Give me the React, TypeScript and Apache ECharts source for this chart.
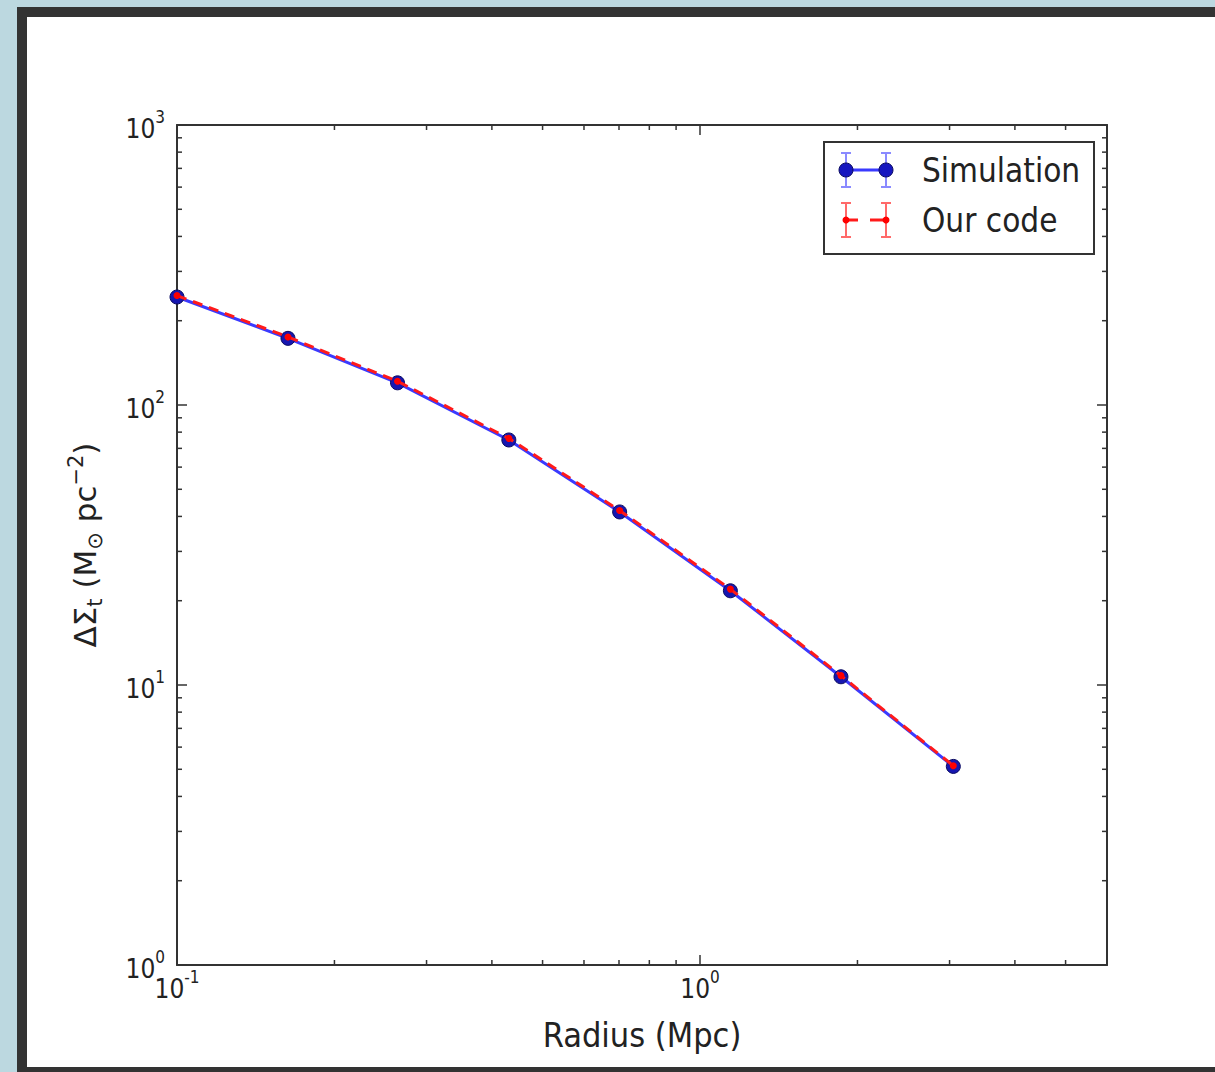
import React, { useEffect, useRef } from "react";
import * as echarts from "echarts";

// Projected radius bins (Mpc)
const radius = [0.1, 0.163, 0.264, 0.431, 0.702, 1.143, 1.86, 3.05];
// Tangential shear profile, ΔΣ_t (M⊙ pc⁻²)
const simulation = [243, 173, 120, 75, 41.5, 21.7, 10.7, 5.12];
const ourCode = [246, 175, 121.5, 76, 42, 22, 10.8, 5.15];

const xMin = 0.1;
const xMax = 6;
const yMin = 1;
const yMax = 1000;

// Minor tick positions of the log axes
const xMinorTicks = [0.2, 0.3, 0.4, 0.5, 0.6, 0.7, 0.8, 0.9, 2, 3, 4, 5];
const yMinorTicks = [
  2, 3, 4, 5, 6, 7, 8, 9, 20, 30, 40, 50, 60, 70, 80, 90, 200, 300, 400, 500, 600, 700, 800, 900,
];

const legendLabels = ["Simulation", "Our code"];

const FONT = '"DejaVu Sans Condensed", "DejaVu Sans", sans-serif';
const FONT_WIDE = '"DejaVu Sans", sans-serif';

const powerLabel = (v: number) => {
  const e = Math.log10(v);
  const r = Math.round(e);
  if (Math.abs(e - r) > 1e-6) return "";
  return `{b|10}{s|${r < 0 ? "-" + Math.abs(r) : r}}`;
};

const tickRich = {
  b: { fontSize: 26, lineHeight: 34, verticalAlign: "bottom", color: "#222", fontFamily: FONT },
  s: { fontSize: 17, lineHeight: 17, verticalAlign: "top", color: "#222", fontFamily: FONT },
};

export default function App() {
  const ref = useRef<HTMLDivElement>(null);

  useEffect(() => {
    if (!ref.current) return;
    const chart = echarts.init(ref.current, undefined, { renderer: "svg" });

    const tickStyle = { stroke: "#333", lineWidth: 1.5 };
    const minorLen = 5;

    const option: any = {
      animation: false,
      backgroundColor: "transparent",
      grid: { left: 177, top: 125, width: 930, height: 840, containLabel: false },
      xAxis: [
        {
          type: "log",
          logBase: 10,
          min: xMin,
          max: xMax,
          name: "Radius (Mpc)",
          nameLocation: "middle",
          nameGap: 53,
          nameTextStyle: { fontSize: 34, color: "#222", fontFamily: FONT },
          axisLine: { show: true, lineStyle: { color: "#333", width: 2 } },
          axisTick: { show: true, inside: true, length: 10, lineStyle: { color: "#333", width: 1.5 } },
          axisLabel: { formatter: powerLabel, rich: tickRich, margin: 3, showMaxLabel: false },
          splitLine: { show: false },
        },
        {
          type: "log",
          logBase: 10,
          min: xMin,
          max: xMax,
          position: "top",
          axisLine: { show: true, lineStyle: { color: "#333", width: 2 } },
          axisTick: { show: true, inside: true, length: 10, lineStyle: { color: "#333", width: 1.5 } },
          axisLabel: { show: false },
          splitLine: { show: false },
        },
      ],
      yAxis: [
        {
          type: "log",
          logBase: 10,
          min: yMin,
          max: yMax,
          name: "{m|ΔΣ}{sub|t}{m| (M}{sub|⊙}{m| pc}{sup|−2}{m|)}",
          nameLocation: "middle",
          nameRotate: 90,
          nameGap: 72,
          nameTextStyle: {
            rich: {
              m: { fontSize: 31, lineHeight: 40, verticalAlign: "middle", color: "#222", fontFamily: FONT_WIDE },
              sub: { fontSize: 21, lineHeight: 21, verticalAlign: "bottom", color: "#222", fontFamily: FONT_WIDE },
              sup: { fontSize: 21, lineHeight: 21, verticalAlign: "top", color: "#222", fontFamily: FONT_WIDE },
            },
          },
          axisLine: { show: true, lineStyle: { color: "#333", width: 2 } },
          axisTick: { show: true, inside: true, length: 10, lineStyle: { color: "#333", width: 1.5 } },
          axisLabel: { formatter: powerLabel, rich: tickRich, margin: 12 },
          splitLine: { show: false },
        },
        {
          type: "log",
          logBase: 10,
          min: yMin,
          max: yMax,
          position: "right",
          axisLine: { show: true, lineStyle: { color: "#333", width: 2 } },
          axisTick: { show: true, inside: true, length: 10, lineStyle: { color: "#333", width: 1.5 } },
          axisLabel: { show: false },
          splitLine: { show: false },
        },
      ],
      series: [
        {
          name: "xMinor",
          type: "custom",
          silent: true,
          clip: false,
          data: xMinorTicks.map((v) => [v, yMin]),
          renderItem: (params: any, api: any) => {
            const cs = params.coordSys;
            const p = api.coord([api.value(0), api.value(1)]);
            return {
              type: "group",
              children: [
                { type: "line", shape: { x1: p[0], y1: cs.y + cs.height, x2: p[0], y2: cs.y + cs.height - minorLen }, style: tickStyle },
                { type: "line", shape: { x1: p[0], y1: cs.y, x2: p[0], y2: cs.y + minorLen }, style: tickStyle },
              ],
            };
          },
        },
        {
          name: "yMinor",
          type: "custom",
          silent: true,
          clip: false,
          data: yMinorTicks.map((v) => [xMin, v]),
          renderItem: (params: any, api: any) => {
            const cs = params.coordSys;
            const p = api.coord([api.value(0), api.value(1)]);
            return {
              type: "group",
              children: [
                { type: "line", shape: { x1: cs.x, y1: p[1], x2: cs.x + minorLen, y2: p[1] }, style: tickStyle },
                { type: "line", shape: { x1: cs.x + cs.width, y1: p[1], x2: cs.x + cs.width - minorLen, y2: p[1] }, style: tickStyle },
              ],
            };
          },
        },
        {
          name: legendLabels[0],
          type: "line",
          data: radius.map((r, i) => [r, simulation[i]]),
          symbol: "circle",
          symbolSize: 14,
          clip: false,
          lineStyle: { color: "#3a3aff", width: 3 },
          itemStyle: { color: "#1616b0", borderColor: "#0a0a60", borderWidth: 1 },
          z: 3,
        },
        {
          name: legendLabels[1],
          type: "line",
          data: radius.map((r, i) => [r, ourCode[i]]),
          symbol: "circle",
          symbolSize: 7,
          clip: false,
          lineStyle: { color: "#ff1a1a", width: 3, type: [10, 7] },
          itemStyle: { color: "#ff0000" },
          z: 4,
        },
      ],
      graphic: [
        {
          type: "group",
          left: 823,
          top: 141,
          children: [
            { type: "rect", shape: { x: 0, y: 0, width: 270, height: 112 }, style: { fill: "#fff", stroke: "#333", lineWidth: 2 } },
            // Simulation sample: error bars, line, markers
            { type: "line", shape: { x1: 22, y1: 11, x2: 22, y2: 45 }, style: { stroke: "#8a8aff", lineWidth: 2 } },
            { type: "line", shape: { x1: 17, y1: 11, x2: 27, y2: 11 }, style: { stroke: "#8a8aff", lineWidth: 2 } },
            { type: "line", shape: { x1: 17, y1: 45, x2: 27, y2: 45 }, style: { stroke: "#8a8aff", lineWidth: 2 } },
            { type: "line", shape: { x1: 62, y1: 11, x2: 62, y2: 45 }, style: { stroke: "#8a8aff", lineWidth: 2 } },
            { type: "line", shape: { x1: 57, y1: 11, x2: 67, y2: 11 }, style: { stroke: "#8a8aff", lineWidth: 2 } },
            { type: "line", shape: { x1: 57, y1: 45, x2: 67, y2: 45 }, style: { stroke: "#8a8aff", lineWidth: 2 } },
            { type: "line", shape: { x1: 22, y1: 28, x2: 62, y2: 28 }, style: { stroke: "#3a3aff", lineWidth: 3 } },
            { type: "circle", shape: { cx: 22, cy: 28, r: 7 }, style: { fill: "#1616c0", stroke: "#0a0a60", lineWidth: 1 } },
            { type: "circle", shape: { cx: 62, cy: 28, r: 7 }, style: { fill: "#1616c0", stroke: "#0a0a60", lineWidth: 1 } },
            { type: "text", style: { text: legendLabels[0], x: 98, y: 28, verticalAlign: "middle", fontSize: 33, fill: "#222", fontFamily: FONT } },
            // Our code sample: error bars, dashed line, markers
            { type: "line", shape: { x1: 22, y1: 61, x2: 22, y2: 95 }, style: { stroke: "#ff6a6a", lineWidth: 2 } },
            { type: "line", shape: { x1: 17, y1: 61, x2: 27, y2: 61 }, style: { stroke: "#ff6a6a", lineWidth: 2 } },
            { type: "line", shape: { x1: 17, y1: 95, x2: 27, y2: 95 }, style: { stroke: "#ff6a6a", lineWidth: 2 } },
            { type: "line", shape: { x1: 62, y1: 61, x2: 62, y2: 95 }, style: { stroke: "#ff6a6a", lineWidth: 2 } },
            { type: "line", shape: { x1: 57, y1: 61, x2: 67, y2: 61 }, style: { stroke: "#ff6a6a", lineWidth: 2 } },
            { type: "line", shape: { x1: 57, y1: 95, x2: 67, y2: 95 }, style: { stroke: "#ff6a6a", lineWidth: 2 } },
            { type: "line", shape: { x1: 22, y1: 78, x2: 34, y2: 78 }, style: { stroke: "#ff1a1a", lineWidth: 3 } },
            { type: "line", shape: { x1: 46, y1: 78, x2: 62, y2: 78 }, style: { stroke: "#ff1a1a", lineWidth: 3 } },
            { type: "circle", shape: { cx: 22, cy: 78, r: 3.5 }, style: { fill: "#ff0000" } },
            { type: "circle", shape: { cx: 62, cy: 78, r: 3.5 }, style: { fill: "#ff0000" } },
            { type: "text", style: { text: legendLabels[1], x: 98, y: 78, verticalAlign: "middle", fontSize: 33, fill: "#222", fontFamily: FONT } },
          ],
        },
      ],
    };

    chart.setOption(option);
    return () => chart.dispose();
  }, []);

  return (
    <div
      style={{
        position: "fixed",
        left: 0,
        top: 0,
        width: 1215,
        height: 1072,
        overflow: "hidden",
        background: "#bcd8e0",
      }}
    >
      <div
        style={{
          position: "absolute",
          left: 17,
          top: 7,
          width: 1300,
          height: 1070,
          boxSizing: "border-box",
          border: "10px solid #333",
          background: "#fff",
        }}
      />
      <div ref={ref} style={{ position: "absolute", left: 0, top: 0, width: 1215, height: 1072 }} />
    </div>
  );
}
